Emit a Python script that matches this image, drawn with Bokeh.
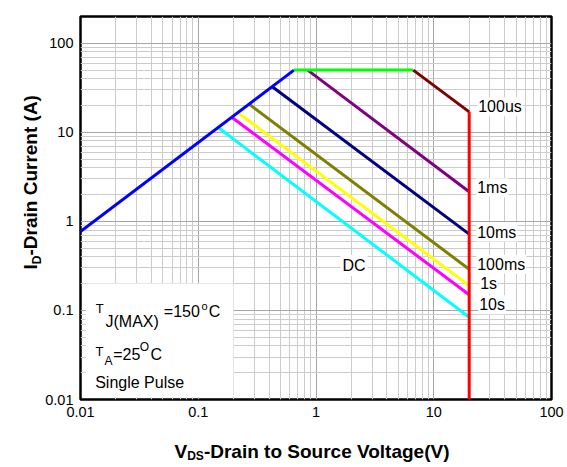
import math
from bokeh.plotting import figure
from bokeh.layouts import row, column
from bokeh.models import Range1d, FixedTicker, CustomJSTickFormatter, Label, BoxAnnotation
from bokeh.embed import file_html
from bokeh.resources import INLINE

# ---------------- data ----------------
x_ticks = [0.01, 0.1, 1, 10, 100]
y_ticks = [0.01, 0.1, 1, 10, 100]

rds_v = [0.01, 0.65]      # RDS(on) limit
rds_i = [0.77, 50]
pkg_v = [0.65, 6.7]       # package / current limit
pkg_i = [50, 50]
us100_v = [6.7, 20]       # 100us
us100_i = [50, 17]
bv_v = [20, 20]           # BVDSS limit
bv_i = [17, 0.01]
ms1_v = [0.85, 20]
ms1_i = [50, 2.15]
ms10_v = [0.42, 20]
ms10_i = [33, 0.72]
ms100_v = [0.27, 20]
ms100_i = [20.8, 0.29]
s1_v = [0.215, 20]
s1_i = [16.8, 0.19]
s10_v = [0.19, 20]
s10_i = [15, 0.15]
dc_v = [0.147, 20]
dc_i = [11.4, 0.084]

curve_names = ["DC", "10s", "1s", "100ms", "10ms", "1ms"]
dc_label_pos = (2.1, 0.32)

# ---------------- styles ----------------
FONT = "Liberation Sans"
colors = {"DC": "#00FFFF", "10s": "#FF00FF", "1s": "#FFFF00", "100ms": "#808000",
          "10ms": "#000080", "1ms": "#800080", "100us": "#800000"}
label_offsets = {"100us": (8, 5), "1ms": (7, 4), "10ms": (7, 2), "100ms": (7, 5),
                 "1s": (10, 2), "10s": (9, -10)}


def blank_fig(w, h):
    f = figure(width=w, height=h, x_range=Range1d(0, 1), y_range=Range1d(0, 1),
               min_border=0, x_axis_location=None, y_axis_location=None,
               output_backend="svg", toolbar_location=None)
    f.outline_line_color = None
    f.background_fill_color = "white"
    f.border_fill_color = "white"
    f.grid.visible = False
    return f


p = figure(x_axis_type="log", y_axis_type="log",
           x_range=Range1d(0.01, 100), y_range=Range1d(0.01, 200),
           frame_width=471, frame_height=383,
           min_border_left=36, min_border_right=18, min_border_top=16, min_border_bottom=28,
           output_backend="svg", toolbar_location=None)
p.background_fill_color = "white"
p.border_fill_color = "white"
p.outline_line_color = "black"
p.outline_line_width = 2.5


def minors(ticks):
    return [t * m for t in ticks[:-1] for m in range(2, 10)]


for ax, ticks, standoff in ((p.xaxis[0], x_ticks, 7), (p.yaxis[0], y_ticks, 7)):
    ax.ticker = FixedTicker(ticks=ticks, minor_ticks=minors(ticks))
    ax.formatter = CustomJSTickFormatter(code="return tick.toString();")
    ax.axis_line_color = None
    ax.major_tick_line_color = None
    ax.minor_tick_line_color = None
    ax.major_tick_in = 0
    ax.major_tick_out = 0
    ax.minor_tick_in = 0
    ax.minor_tick_out = 0
    ax.major_label_text_font = FONT
    ax.major_label_text_font_size = "14.5px"
    ax.major_label_text_color = "black"
    ax.major_label_standoff = standoff

for g in (p.xgrid[0], p.ygrid[0]):
    g.grid_line_color = "#a6a6a6"
    g.grid_line_width = 1
    g.minor_grid_line_color = "#cccccc"
    g.minor_grid_line_width = 1

series = {"DC": (dc_v, dc_i), "10s": (s10_v, s10_i), "1s": (s1_v, s1_i),
          "100ms": (ms100_v, ms100_i), "10ms": (ms10_v, ms10_i), "1ms": (ms1_v, ms1_i)}
for name in curve_names:
    v, i = series[name]
    p.line(v, i, line_width=3, line_color=colors[name])

p.line(rds_v, rds_i, line_width=3, line_color="#0000FF")
p.line(pkg_v, pkg_i, line_width=3, line_color="#00FF00")
p.line(us100_v, us100_i, line_width=3, line_color=colors["100us"])
p.line(bv_v, bv_i, line_width=3, line_color="#FF0000")

# curve labels
ends = {"100us": (us100_v[-1], us100_i[-1]), "1ms": (ms1_v[-1], ms1_i[-1]),
        "10ms": (ms10_v[-1], ms10_i[-1]), "100ms": (ms100_v[-1], ms100_i[-1]),
        "1s": (s1_v[-1], s1_i[-1]), "10s": (s10_v[-1], s10_i[-1])}
for name, (xv, yv) in ends.items():
    dx, dy = label_offsets[name]
    p.add_layout(Label(x=xv, y=yv, x_offset=dx, y_offset=dy, text=name,
                       text_font=FONT, text_font_size="16px", text_color="black",
                       text_align="left", text_baseline="middle",
                       background_fill_color="white", padding=1))
p.add_layout(Label(x=dc_label_pos[0], y=dc_label_pos[1], text="DC",
                   text_font=FONT, text_font_size="16px", text_color="black",
                   text_align="center", text_baseline="middle",
                   background_fill_color="white", padding=2))

# condition box (screen units, frame relative)
p.add_layout(BoxAnnotation(left=5, right=153, bottom=2, top=116,
                           left_units="screen", right_units="screen",
                           bottom_units="screen", top_units="screen",
                           fill_color="white", fill_alpha=1, line_color=None))


def slabel(fig, x, y, text, size, bold=False, angle=0.0):
    fig.add_layout(Label(x=x, y=y, x_units="screen", y_units="screen", text=text,
                         text_font=FONT, text_font_size=f"{size}px",
                         text_font_style="bold" if bold else "normal",
                         text_color="black", text_align="left",
                         text_baseline="alphabetic", angle=angle))


# conditions text
slabel(p, 15.3, 91, "T", 13)
slabel(p, 25, 77.7, "J(MAX)", 16)
slabel(p, 83.3, 88, "=150", 16)
slabel(p, 121, 93.7, "o", 11)
slabel(p, 128.3, 88, "C", 16)

slabel(p, 15, 48, "T", 13)
slabel(p, 24, 38.7, "A", 12)
slabel(p, 32.7, 45.3, "=25", 16)
slabel(p, 59.3, 53, "O", 12)
slabel(p, 70, 45.3, "C", 16)

slabel(p, 14.7, 17.3, "Single Pulse", 16)

# y axis title (separate strip on the left)
yfig = blank_fig(42, 427)
rot = math.pi / 2
slabel(yfig, 30, 130, "I", 19, bold=True, angle=rot)
slabel(yfig, 36, 135.3, "D", 12, bold=True, angle=rot)
slabel(yfig, 30, 144, "-Drain Current (A)", 19, bold=True, angle=rot)

# x axis title (separate strip below)
xfig = blank_fig(567, 36)
slabel(xfig, 174, 12.3, "V", 19, bold=True)
slabel(xfig, 186.7, 7.3, "DS", 12, bold=True)
slabel(xfig, 203.4, 12.3, "-Drain to Source Voltage(V)", 19, bold=True)

root = column(row(yfig, p), xfig)
open("out.html", "w").write(file_html(root, INLINE))
